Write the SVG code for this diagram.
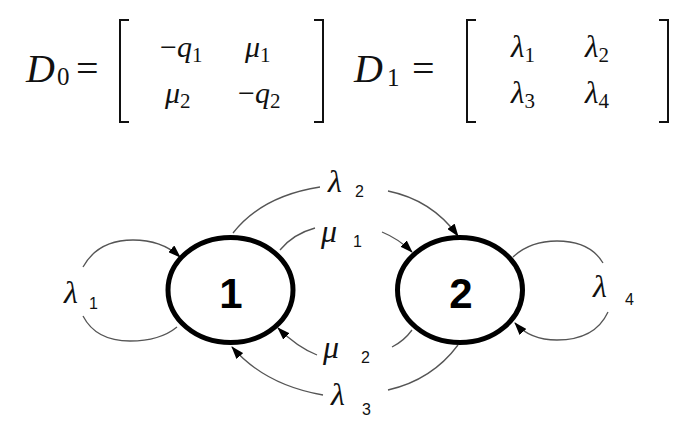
<svg xmlns="http://www.w3.org/2000/svg" width="699" height="428" viewBox="0 0 699 428">
<style>
.m{font-family:"Liberation Serif","DejaVu Serif",serif;fill:#111}
.it{font-style:italic}
.br{fill:none;stroke:#111;stroke-width:2}
.node{fill:#fff;stroke:#000;stroke-width:5}
.num{font-family:"Liberation Sans",Arial,sans-serif;font-weight:bold;font-size:42px;fill:#000;text-anchor:middle}
.edge{fill:none;stroke:#555;stroke-width:1.3}
.lab{font-family:"Liberation Serif","DejaVu Serif",serif;font-style:italic;font-size:32px;fill:#111}
.sub{font-family:"Liberation Sans",Arial,sans-serif;font-size:16px;fill:#111}
</style>
<defs>
<marker id="ah" markerUnits="userSpaceOnUse" markerWidth="13" markerHeight="9" refX="12" refY="4.5" orient="auto">
<path d="M0,0 L13,4.5 L0,9 z" fill="#000"/>
</marker>
</defs>
<rect width="699" height="428" fill="#fff"/>
<g id="formula">
<text class="m it" x="26" y="82" font-size="40">D</text>
<text class="m" x="57" y="85" font-size="25">0</text>
<text class="m" x="76" y="82" font-size="40">=</text>
<path class="br" d="M129,20 H120 V122 H129"/>
<path class="br" d="M314,20 H323 V122 H314"/>
<text class="m" x="160" y="57" font-size="30">−<tspan class="it">q</tspan><tspan font-size="21" dy="5">1</tspan></text>
<text class="m" x="245" y="57" font-size="30"><tspan class="it">μ</tspan><tspan font-size="21" dy="5">1</tspan></text>
<text class="m" x="165" y="103" font-size="30"><tspan class="it">μ</tspan><tspan font-size="21" dy="5">2</tspan></text>
<text class="m" x="238" y="103" font-size="30">−<tspan class="it">q</tspan><tspan font-size="21" dy="5">2</tspan></text>
<text class="m it" x="354" y="82" font-size="40">D</text>
<text class="m" x="387" y="86" font-size="25">1</text>
<text class="m" x="412" y="82" font-size="40">=</text>
<path class="br" d="M476,20 H467 V122 H476"/>
<path class="br" d="M659,20 H668 V122 H659"/>
<text class="m" x="511" y="57" font-size="31"><tspan class="it">λ</tspan><tspan font-size="21" dy="5">1</tspan></text>
<text class="m" x="585" y="57" font-size="31"><tspan class="it">λ</tspan><tspan font-size="21" dy="5">2</tspan></text>
<text class="m" x="511" y="103" font-size="31"><tspan class="it">λ</tspan><tspan font-size="21" dy="5">3</tspan></text>
<text class="m" x="585" y="103" font-size="31"><tspan class="it">λ</tspan><tspan font-size="21" dy="5">4</tspan></text>
</g>
<g id="connectors">
<path class="edge" d="M83,267 Q98,240 133,240 Q162,240 180,257" marker-end="url(#ah)"/>
<path class="edge" d="M83,316 Q96,341 130,341 Q160,341 177,327"/>
<path class="edge" d="M233,233 Q262,196 320,187"/>
<path class="edge" d="M388,191 Q432,200 458,236" marker-end="url(#ah)"/>
<path class="edge" d="M280,250 Q293,234 315,228"/>
<path class="edge" d="M382,232 Q399,239 412,252" marker-end="url(#ah)"/>
<path class="edge" d="M412,330 Q404,341 392,347"/>
<path class="edge" d="M317,355 Q297,347 278,328" marker-end="url(#ah)"/>
<path class="edge" d="M458,345 Q432,380 388,390"/>
<path class="edge" d="M323,395 Q265,385 232,347" marker-end="url(#ah)"/>
<path class="edge" d="M513,257 Q530,241 557,241 Q590,241 603,263"/>
<path class="edge" d="M608,312 Q595,340 557,340 Q530,340 515,323" marker-end="url(#ah)"/>
</g>
<g id="node1">
<ellipse class="node" cx="230.5" cy="290" rx="62.5" ry="52.5"/>
<text class="num" x="231" y="308">1</text>
</g>
<g id="node2">
<ellipse class="node" cx="460" cy="290" rx="62.5" ry="52.5"/>
<text class="num" x="461" y="308">2</text>
</g>
<g id="labels">
<text class="lab" x="64" y="303">λ</text><text class="sub" x="89" y="309">1</text>
<text class="lab" x="328" y="192">λ</text><text class="sub" x="355" y="197">2</text>
<text class="lab" x="321" y="242">μ</text><text class="sub" x="353" y="247">1</text>
<text class="lab" x="323" y="358">μ</text><text class="sub" x="361" y="363">2</text>
<text class="lab" x="331" y="405">λ</text><text class="sub" x="362" y="415">3</text>
<text class="lab" x="593" y="297">λ</text><text class="sub" x="625" y="305">4</text>
</g>
</svg>
